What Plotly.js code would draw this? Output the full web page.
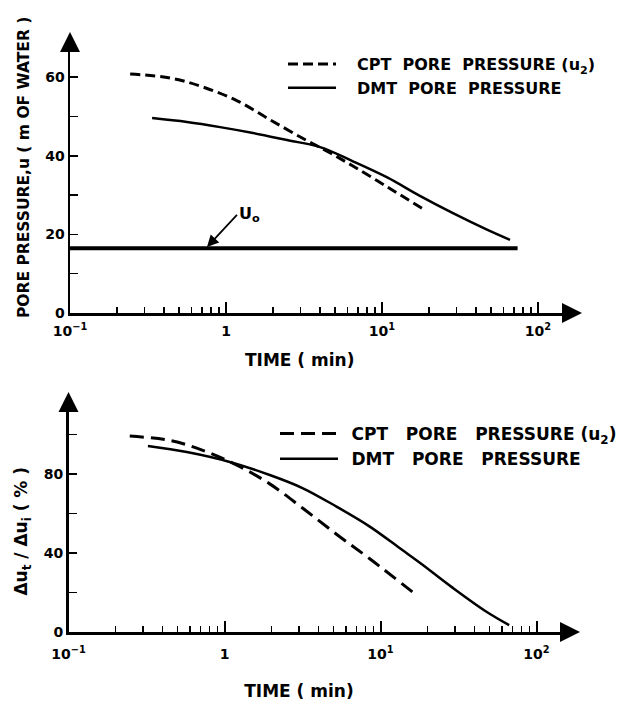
<!DOCTYPE html>
<html>
<head>
<meta charset="utf-8">
<script src="https://cdn.plot.ly/plotly-3.0.1.min.js"></script>
<style>html,body{margin:0;padding:0;background:#fff;}#chart{width:628px;height:701px;}</style>
</head>
<body>
<div id="chart"></div>
<script>
// ---- data ----
// Top panel: pore pressure u (m of water) vs time (min)
var cptTopTime = [0.243, 0.438, 0.713, 1.18, 1.91, 3.12, 4.44, 6.51, 10.8, 18.3];
var cptTopU    = [60.8, 59.8, 57.5, 54.0, 49.2, 44.4, 41.2, 37.4, 32.1, 26.5];
var dmtTopTime = [0.336, 0.562, 0.916, 1.49, 2.46, 4.01, 6.51, 10.8, 17.5, 28.5, 47.1, 66.2];
var dmtTopU    = [49.6, 48.6, 47.3, 45.8, 44.0, 42.2, 38.6, 34.5, 29.8, 25.4, 21.2, 18.6];
var u0Time     = [0.1, 74];
var u0Value    = [16.5, 16.5];
// Bottom panel: du_t / du_i (%) vs time (min)
var cptBotTime = [0.247, 0.446, 0.726, 1.20, 1.95, 3.16, 5.22, 8.49, 17.0];
var cptBotPct  = [99.2, 97.0, 92.0, 84.5, 75.0, 62.8, 49.5, 37.2, 18.7];
var dmtBotTime = [0.323, 0.573, 1.08, 1.95, 3.16, 5.22, 8.49, 13.8, 18.5, 28.8, 47.5, 66.8];
var dmtBotPct  = [94.2, 91.1, 86.1, 79.5, 72.9, 63.5, 53.5, 41.5, 34.2, 22.6, 10.4, 3.5];
// tick labels
var timeTickVals = [0.1, 1, 10, 100];
var timeTickText = ['10<sup>−1</sup>', '1', '10<sup>1</sup>', '10<sup>2</sup>'];
var timeMinorVals = [0.2,0.3,0.4,0.5,0.6,0.7,0.8,0.9,2,3,4,5,6,7,8,9,20,30,40,50,60,70,80,90];
var uTickVals = [0, 10, 20, 30, 40, 50, 60];
var uTickText = ['0', '', '20', '', '40', '', '60'];
var pctTickVals = [0, 20, 40, 60, 80, 100];
var pctTickText = ['0', '', '40', '', '80', ''];
var SP = '\u2002';  // en space, used only for text placement
var ZW = '\u200B';  // zero-width space keeps padding from being trimmed
var legendTopCPT = SP + SP + 'CPT  PORE  PRESSURE (u<sub>2</sub>)';
var legendTopDMT = SP + SP + 'DMT  PORE  PRESSURE';
var legendBotCPT = SP + 'CPT   PORE   PRESSURE (u<sub>2</sub>)';
var legendBotDMT = SP + 'DMT   PORE   PRESSURE';
var xTitle = 'TIME ( min)' + SP + SP + SP + SP + SP + ZW;
var yTitleTop = ZW + SP + SP + SP + 'PORE PRESSURE,u ( m OF WATER )';
var yTitleBot = 'Δu<sub>t</sub> / Δu<sub>i</sub> ( % )' + SP + SP + SP + ZW;

// ---- layout helpers ----
var W = 628, H = 701;
function px(x){ return x / W; }
function py(y){ return 1 - y / H; }
var FAMILY = 'DejaVu Sans, Liberation Sans, Arial, sans-serif';
function f(size){ return {family: FAMILY, color: '#000', size: size, weight: 'bold'}; }

var traces = [
  {x: cptTopTime, y: cptTopU, mode: 'lines', name: legendTopCPT, xaxis: 'x', yaxis: 'y', legend: 'legend',
   line: {color: '#000', width: 3, dash: '10px,5px', shape: 'spline', smoothing: 1}},
  {x: dmtTopTime, y: dmtTopU, mode: 'lines', name: legendTopDMT, xaxis: 'x', yaxis: 'y', legend: 'legend',
   line: {color: '#000', width: 2.5, shape: 'spline', smoothing: 1}},
  {x: u0Time, y: u0Value, mode: 'lines', name: 'u0', showlegend: false, xaxis: 'x', yaxis: 'y',
   line: {color: '#000', width: 4}},
  {x: cptBotTime, y: cptBotPct, mode: 'lines', name: legendBotCPT, xaxis: 'x2', yaxis: 'y2', legend: 'legend2',
   line: {color: '#000', width: 3, dash: '14px,7px', shape: 'spline', smoothing: 1}},
  {x: dmtBotTime, y: dmtBotPct, mode: 'lines', name: legendBotDMT, xaxis: 'x2', yaxis: 'y2', legend: 'legend2',
   line: {color: '#000', width: 2.5, shape: 'spline', smoothing: 1}}
];

function xAxis(domainStart, anchor, standoff, labelStandoff){
  return {
    type: 'log', domain: [px(domainStart), px(572)], range: [-1, -1 + (572 - domainStart) / 156],
    anchor: anchor, showgrid: false, zeroline: false,
    showline: true, linecolor: '#000', linewidth: 2.5,
    tickmode: 'array', tickvals: timeTickVals, ticktext: timeTickText,
    ticks: 'inside', ticklen: 11, tickwidth: 2, tickcolor: '#000',
    tickfont: f(14), ticklabelstandoff: labelStandoff,
    minor: {tickmode: 'array', tickvals: timeMinorVals, ticks: 'inside', ticklen: 6, tickwidth: 1.5, tickcolor: '#000'},
    title: {text: xTitle, font: f(17), standoff: standoff},
    fixedrange: true
  };
}

var layout = {
  width: W, height: H,
  margin: {l: 0, r: 0, t: 0, b: 0},
  paper_bgcolor: '#fff', plot_bgcolor: 'rgba(0,0,0,0)',
  font: f(14),
  showlegend: true,
  xaxis: xAxis(70, 'y', 16, 4),
  yaxis: {
    domain: [py(313), py(45)], range: [0, (313 - 45) / 3.93], anchor: 'x',
    showgrid: false, zeroline: false, showline: true, linecolor: '#000', linewidth: 2.5,
    tickmode: 'array', tickvals: uTickVals, ticktext: uTickText,
    ticks: 'inside', ticklen: 8, tickwidth: 1.5, tickcolor: '#000', tickfont: f(14),
    title: {text: yTitleTop, font: f(15.5), standoff: 12},
    fixedrange: true
  },
  xaxis2: xAxis(68.5, 'y2', 30, 8),
  yaxis2: {
    domain: [py(632), py(405)], range: [0, (632 - 405) / 1.975], anchor: 'x2',
    showgrid: false, zeroline: false, showline: true, linecolor: '#000', linewidth: 2.5,
    tickmode: 'array', tickvals: pctTickVals, ticktext: pctTickText,
    ticks: 'inside', ticklen: 8, tickwidth: 1.5, tickcolor: '#000', tickfont: f(14),
    title: {text: yTitleBot, font: f(17), standoff: 12},
    fixedrange: true
  },
  legend: {x: px(283), y: py(47), xanchor: 'left', yanchor: 'top', bgcolor: 'rgba(0,0,0,0)',
           font: f(16), itemwidth: 48, tracegroupgap: 0},
  legend2: {x: px(275), y: py(416), xanchor: 'left', yanchor: 'top', bgcolor: 'rgba(0,0,0,0)',
            font: f(17), itemwidth: 58, tracegroupgap: 0},
  annotations: [
    // u0 label with arrow
    {x: Math.log10(0.755), y: 16.8, xref: 'x', yref: 'y', text: 'U<sub>o</sub>', font: f(16),
     showarrow: true, arrowhead: 2, arrowsize: 1.3, arrowwidth: 1.8, arrowcolor: '#000',
     ax: 30, ay: -32, xanchor: 'left'},
    // axis arrowheads
    {x: px(582), y: py(313), xref: 'paper', yref: 'paper', text: '', showarrow: true,
     arrowhead: 2, arrowsize: 1.6, arrowwidth: 2.5, arrowcolor: '#000', ax: -14, ay: 0},
    {x: px(70), y: py(32), xref: 'paper', yref: 'paper', text: '', showarrow: true,
     arrowhead: 2, arrowsize: 1.6, arrowwidth: 2.5, arrowcolor: '#000', ax: 0, ay: 16},
    {x: px(580), y: py(632), xref: 'paper', yref: 'paper', text: '', showarrow: true,
     arrowhead: 2, arrowsize: 1.6, arrowwidth: 2.5, arrowcolor: '#000', ax: -12, ay: 0},
    {x: px(68.5), y: py(392), xref: 'paper', yref: 'paper', text: '', showarrow: true,
     arrowhead: 2, arrowsize: 1.6, arrowwidth: 2.5, arrowcolor: '#000', ax: 0, ay: 16}
  ]
};

Plotly.newPlot('chart', traces, layout, {staticPlot: true, displayModeBar: false});
</script>
</body>
</html>
